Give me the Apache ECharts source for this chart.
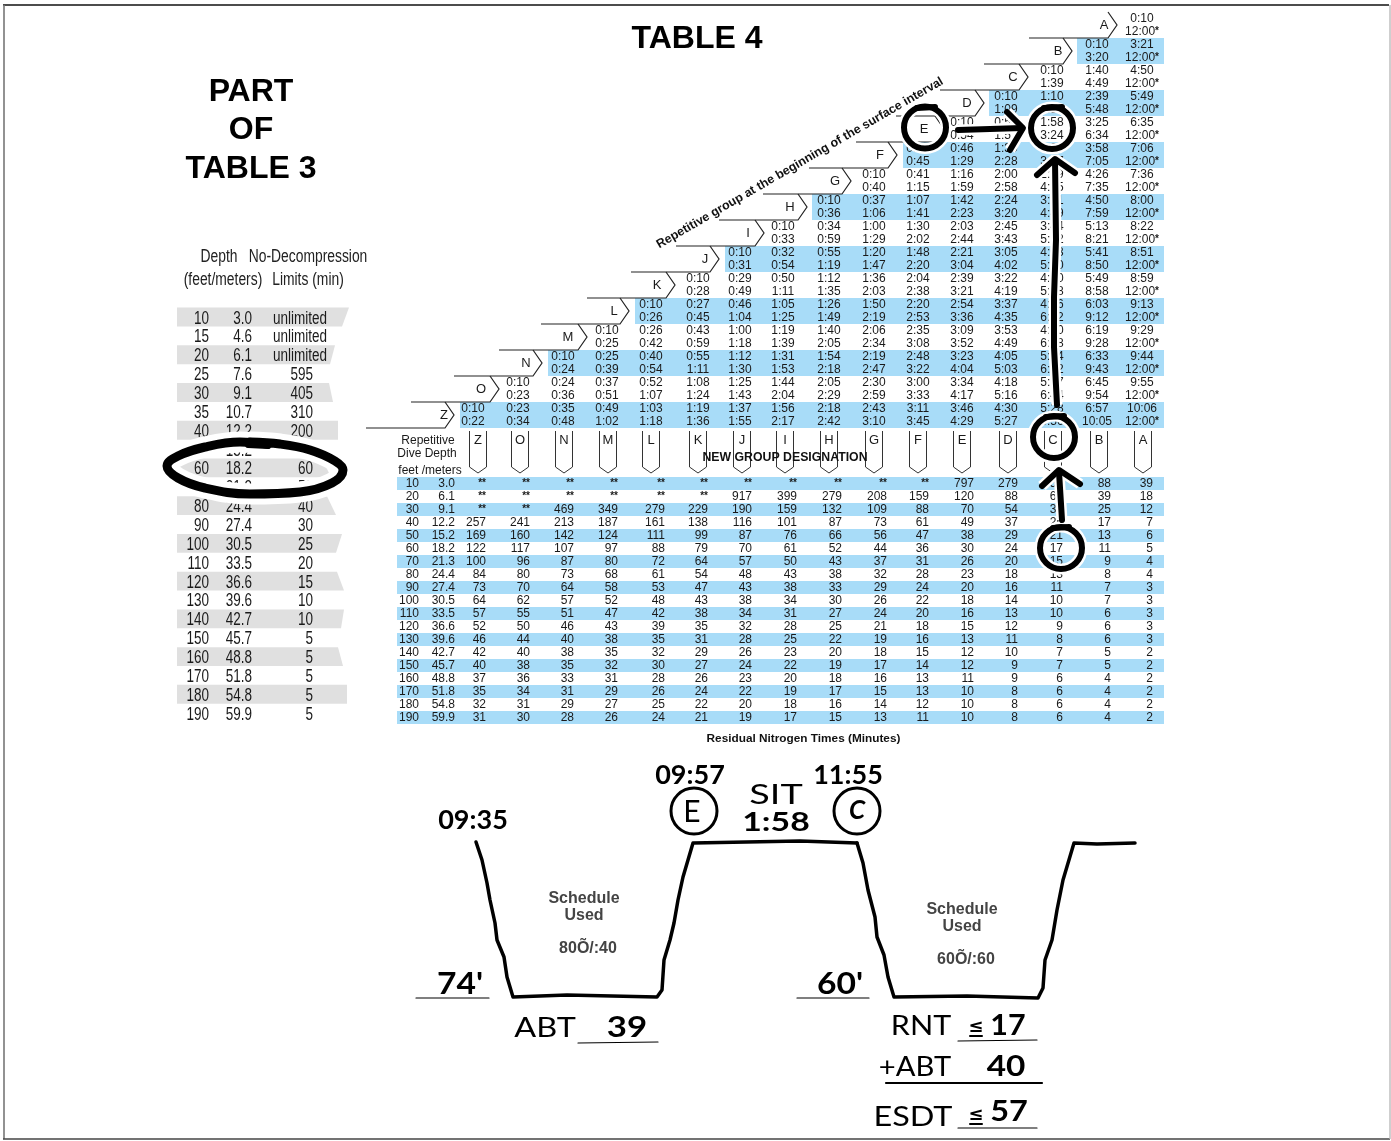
<!DOCTYPE html>
<html>
<head>
<meta charset="utf-8">
<title>Table 4</title>
<style>
  html, body { margin: 0; padding: 0; background: #fff; }
  #chart { width: 1391px; height: 1141px; }
</style>
<script src="https://cdn.jsdelivr.net/npm/echarts@6/dist/echarts.min.js"></script>
</head>
<body>
<div id="chart"></div>
<script>
  // table 4, surface intervals, rows A..Z, cells left to right
  const groups = ['A', 'B', 'C', 'D', 'E', 'F', 'G', 'H', 'I', 'J', 'K', 'L', 'M', 'N', 'O', 'Z']
  const newGroups = ['Z', 'O', 'N', 'M', 'L', 'K', 'J', 'I', 'H', 'G', 'F', 'E', 'D', 'C', 'B', 'A']
  const intervalFrom = [
    ['0:10'],
    ['0:10', '3:21'],
    ['0:10', '1:40', '4:50'],
    ['0:10', '1:10', '2:39', '5:49'],
    ['0:10', '0:55', '1:58', '3:25', '6:35'],
    ['0:10', '0:46', '1:30', '2:29', '3:58', '7:06'],
    ['0:10', '0:41', '1:16', '2:00', '2:59', '4:26', '7:36'],
    ['0:10', '0:37', '1:07', '1:42', '2:24', '3:21', '4:50', '8:00'],
    ['0:10', '0:34', '1:00', '1:30', '2:03', '2:45', '3:44', '5:13', '8:22'],
    ['0:10', '0:32', '0:55', '1:20', '1:48', '2:21', '3:05', '4:03', '5:41', '8:51'],
    ['0:10', '0:29', '0:50', '1:12', '1:36', '2:04', '2:39', '3:22', '4:20', '5:49', '8:59'],
    ['0:10', '0:27', '0:46', '1:05', '1:26', '1:50', '2:20', '2:54', '3:37', '4:36', '6:03', '9:13'],
    ['0:10', '0:26', '0:43', '1:00', '1:19', '1:40', '2:06', '2:35', '3:09', '3:53', '4:50', '6:19', '9:29'],
    ['0:10', '0:25', '0:40', '0:55', '1:12', '1:31', '1:54', '2:19', '2:48', '3:23', '4:05', '5:04', '6:33', '9:44'],
    ['0:10', '0:24', '0:37', '0:52', '1:08', '1:25', '1:44', '2:05', '2:30', '3:00', '3:34', '4:18', '5:17', '6:45', '9:55'],
    ['0:10', '0:23', '0:35', '0:49', '1:03', '1:19', '1:37', '1:56', '2:18', '2:43', '3:11', '3:46', '4:30', '5:28', '6:57', '10:06']
  ]
  const intervalTo = [
    ['12:00*'],
    ['3:20', '12:00*'],
    ['1:39', '4:49', '12:00*'],
    ['1:09', '2:38', '5:48', '12:00*'],
    ['0:54', '1:57', '3:24', '6:34', '12:00*'],
    ['0:45', '1:29', '2:28', '3:57', '7:05', '12:00*'],
    ['0:40', '1:15', '1:59', '2:58', '4:25', '7:35', '12:00*'],
    ['0:36', '1:06', '1:41', '2:23', '3:20', '4:49', '7:59', '12:00*'],
    ['0:33', '0:59', '1:29', '2:02', '2:44', '3:43', '5:12', '8:21', '12:00*'],
    ['0:31', '0:54', '1:19', '1:47', '2:20', '3:04', '4:02', '5:40', '8:50', '12:00*'],
    ['0:28', '0:49', '1:11', '1:35', '2:03', '2:38', '3:21', '4:19', '5:48', '8:58', '12:00*'],
    ['0:26', '0:45', '1:04', '1:25', '1:49', '2:19', '2:53', '3:36', '4:35', '6:02', '9:12', '12:00*'],
    ['0:25', '0:42', '0:59', '1:18', '1:39', '2:05', '2:34', '3:08', '3:52', '4:49', '6:18', '9:28', '12:00*'],
    ['0:24', '0:39', '0:54', '1:11', '1:30', '1:53', '2:18', '2:47', '3:22', '4:04', '5:03', '6:32', '9:43', '12:00*'],
    ['0:23', '0:36', '0:51', '1:07', '1:24', '1:43', '2:04', '2:29', '2:59', '3:33', '4:17', '5:16', '6:44', '9:54', '12:00*'],
    ['0:22', '0:34', '0:48', '1:02', '1:18', '1:36', '1:55', '2:17', '2:42', '3:10', '3:45', '4:29', '5:27', '6:56', '10:05', '12:00*']
  ]

  // residual nitrogen times
  const depthFeet = [10, 20, 30, 40, 50, 60, 70, 80, 90, 100, 110, 120, 130, 140, 150, 160, 170, 180, 190]
  const depthMeters = ['3.0', '6.1', '9.1', '12.2', '15.2', '18.2', '21.3', '24.4', '27.4', '30.5', '33.5', '36.6', '39.6', '42.7', '45.7', '48.8', '51.8', '54.8', '59.9']
  const residualTimes = [
    ['**', '**', '**', '**', '**', '**', '**', '**', '**', '**', '**', 797, 279, 159, 88, 39],
    ['**', '**', '**', '**', '**', '**', 917, 399, 279, 208, 159, 120, 88, 62, 39, 18],
    ['**', '**', 469, 349, 279, 229, 190, 159, 132, 109, 88, 70, 54, 39, 25, 12],
    [257, 241, 213, 187, 161, 138, 116, 101, 87, 73, 61, 49, 37, 25, 17, 7],
    [169, 160, 142, 124, 111, 99, 87, 76, 66, 56, 47, 38, 29, 21, 13, 6],
    [122, 117, 107, 97, 88, 79, 70, 61, 52, 44, 36, 30, 24, 17, 11, 5],
    [100, 96, 87, 80, 72, 64, 57, 50, 43, 37, 31, 26, 20, 15, 9, 4],
    [84, 80, 73, 68, 61, 54, 48, 43, 38, 32, 28, 23, 18, 13, 8, 4],
    [73, 70, 64, 58, 53, 47, 43, 38, 33, 29, 24, 20, 16, 11, 7, 3],
    [64, 62, 57, 52, 48, 43, 38, 34, 30, 26, 22, 18, 14, 10, 7, 3],
    [57, 55, 51, 47, 42, 38, 34, 31, 27, 24, 20, 16, 13, 10, 6, 3],
    [52, 50, 46, 43, 39, 35, 32, 28, 25, 21, 18, 15, 12, 9, 6, 3],
    [46, 44, 40, 38, 35, 31, 28, 25, 22, 19, 16, 13, 11, 8, 6, 3],
    [42, 40, 38, 35, 32, 29, 26, 23, 20, 18, 15, 12, 10, 7, 5, 2],
    [40, 38, 35, 32, 30, 27, 24, 22, 19, 17, 14, 12, 9, 7, 5, 2],
    [37, 36, 33, 31, 28, 26, 23, 20, 18, 16, 13, 11, 9, 6, 4, 2],
    [35, 34, 31, 29, 26, 24, 22, 19, 17, 15, 13, 10, 8, 6, 4, 2],
    [32, 31, 29, 27, 25, 22, 20, 18, 16, 14, 12, 10, 8, 6, 4, 2],
    [31, 30, 28, 26, 24, 21, 19, 17, 15, 13, 11, 10, 8, 6, 4, 2]
  ]

  // part of table 3
  const limitFeet = [10, 15, 20, 25, 30, 35, 40, 50, 60, 70, 80, 90, 100, 110, 120, 130, 140, 150, 160, 170, 180, 190]
  const limitMeters = ['3.0', '4.6', '6.1', '7.6', '9.1', '10.7', '12.2', '15.2', '18.2', '21.3', '24.4', '27.4', '30.5', '33.5', '36.6', '39.6', '42.7', '45.7', '48.8', '51.8', '54.8', '59.9']
  const limitMinutes = ['unlimited', 'unlimited', 'unlimited', 595, 405, 310, 200, 100, 60, 50, 40, 30, 25, 20, 15, 10, 10, 5, 5, 5, 5, 5]

  // dive profiles [x, y on the page scale]
  const firstDive = [[476, 842], [482, 860], [487, 883], [490, 900], [495, 923], [497, 940], [504, 957], [507, 977], [513, 997], [567, 995], [657, 997], [662, 990], [664, 960], [670, 940], [674, 923], [678, 900], [683, 877], [693, 843], [800, 841], [857, 843]]
  const secondDive = [[857, 843], [863, 863], [868, 890], [875, 917], [877, 937], [884, 955], [888, 977], [894, 997], [967, 996], [1038, 998], [1043, 988], [1045, 960], [1052, 940], [1057, 910], [1063, 880], [1074, 843], [1097, 844], [1135, 843]]

  // layout, px along the shared x axis
  const tagEdge = [1108, 1063, 1019, 975, 935, 888, 842, 798, 755, 710, 666, 620, 578, 533, 490, 445]
  const tagLetter = [1104, 1058, 1013, 967, 924, 880, 835, 790, 748, 705, 657, 614, 568, 526, 481, 444]
  const cellCenter = [473, 518, 563, 607, 651, 698, 740, 783, 829, 874, 918, 962, 1006, 1052, 1097, 1142]
  const headCenter = [478, 520, 564, 608, 651, 698, 742, 785, 829, 874, 918, 962, 1008, 1053, 1099, 1143]
  const cellRight = [486, 530, 574, 618, 665, 708, 752, 797, 842, 887, 929, 974, 1018, 1063, 1111, 1153]
  const bandStart = { 1: 1077, 3: 989, 5: 903, 7: 812, 9: 725, 11: 635, 13: 548, 15: 460 }
  const limitBandEnd = [[349, 342], [335, 330], [329, 333], [338, 338], [322, 331], [327, 336], [342, 336], [337, 344], [344, 341], [338, 343], [347, 347]]

  const BLUE = '#a8dcf8'
  const INK = '#1a1a1a'
  const SANS = '"Liberation Sans", Arial, sans-serif'
  const HAND = 'Lato, "Noto Sans", sans-serif'

  // ---- grids: all share a px wide x axis ----
  const grids = [
    { left: 0, right: 0, top: 12, height: 416 },
    { left: 0, right: 0, top: 428, height: 49 },
    { left: 0, right: 0, top: 477, height: 247 },
    { left: 0, right: 0, top: 307.6, height: 415 },
    { left: 0, right: 0, top: 0, bottom: 0 }
  ]
  const xAxes = grids.map((g, i) => ({ type: 'value', gridIndex: i, min: 0, max: 1391, show: false }))
  const yAxes = [
    { type: 'category', gridIndex: 0, inverse: true, show: false, data: groups },
    { type: 'category', gridIndex: 1, inverse: true, show: false, data: ['head'] },
    { type: 'category', gridIndex: 2, inverse: true, show: false, data: depthFeet },
    { type: 'category', gridIndex: 3, inverse: true, show: false, data: limitFeet },
    { type: 'value', gridIndex: 4, inverse: true, min: 0, max: 1141, show: false }
  ]

  function textEl (x, y, text, o) {
    o = o || {}
    return {
      type: 'text',
      x: x,
      y: y,
      scaleX: o.scaleX || 1,
      rotation: o.rotation || 0,
      z2: 5,
      style: {
        text: text,
        x: 0,
        y: 0,
        align: o.align || 'center',
        verticalAlign: 'middle',
        font: o.font || ('12px ' + SANS),
        fill: o.fill || INK,
        rich: { s: { font: 'bold 10px ' + SANS, fill: INK, verticalAlign: 'middle' } }
      }
    }
  }
  function star (v) {
    return String(v).replace(/(\*+)/, '{s|$1}')
  }
  function customSeries (grid, data, renderItem, z) {
    return {
      type: 'custom',
      xAxisIndex: grid,
      yAxisIndex: grid,
      data: data,
      renderItem: renderItem,
      silent: true,
      animation: false,
      clip: false,
      z: z || 2
    }
  }

  // ---- table 4 ----
  const bandRows = Object.keys(bandStart).map(r => [bandStart[r], +r, 1164])
  const bandSeries = customSeries(0, bandRows, function (params, api) {
    const a = api.coord([bandRows[params.dataIndex][0], bandRows[params.dataIndex][1]])
    const b = api.coord([bandRows[params.dataIndex][2], bandRows[params.dataIndex][1]])
    const h = api.size([0, 1])[1]
    return { type: 'rect', shape: { x: a[0], y: a[1] - h / 2, width: b[0] - a[0], height: h }, style: { fill: BLUE } }
  }, 1)

  const intervalCells = []
  intervalFrom.forEach((row, r) => {
    row.forEach((v, i) => {
      const c = 16 - row.length + i
      intervalCells.push([cellCenter[c], r, v, intervalTo[r][i]])
    })
  })
  const intervalSeries = customSeries(0, intervalCells, function (params, api) {
    const d = intervalCells[params.dataIndex]
    const p = api.coord([d[0], d[1]])
    return {
      type: 'group',
      children: [
        textEl(p[0], p[1] - 6.5, d[2]),
        textEl(p[0], p[1] + 6.5, star(d[3]))
      ]
    }
  })

  const tagRows = tagEdge.map((x, r) => [x, r])
  const tagSeries = customSeries(0, tagRows, function (params, api) {
    const d = tagRows[params.dataIndex]
    const p = api.coord(d)
    const h = api.size([0, 1])[1]
    const yb = p[1] + h / 2
    return {
      type: 'group',
      children: [
        {
          type: 'polyline',
          shape: { points: [[d[0] - 79, yb], [d[0], yb], [d[0] + 9, yb - h / 2], [d[0], yb - h]] },
          style: { stroke: '#222', lineWidth: 1.2, fill: 'none' }
        },
        textEl(tagLetter[d[1]], p[1], groups[d[1]], { font: '13px ' + SANS })
      ]
    }
  })

  // ---- new group heads ----
  const headRows = headCenter.map((x, c) => [x, 0, c])
  const headSeries = customSeries(1, headRows, function (params, api) {
    const d = headRows[params.dataIndex]
    const p = api.coord([d[0], 0])
    const top = p[1] - 21.5
    return {
      type: 'group',
      children: [
        {
          type: 'polyline',
          shape: { points: [[d[0] - 8.5, top], [d[0] - 8.5, top + 36], [d[0], top + 42], [d[0] + 8.5, top + 36], [d[0] + 8.5, top]] },
          style: { stroke: '#333', lineWidth: 1, fill: 'none' }
        },
        textEl(d[0], top + 9, newGroups[d[2]], { font: '13px ' + SANS })
      ]
    }
  })

  // ---- residual nitrogen table ----
  const rntBands = depthFeet.map((d, r) => r).filter(r => r % 2 === 0)
  const rntBandSeries = customSeries(2, rntBands, function (params, api) {
    const r = rntBands[params.dataIndex]
    const a = api.coord([397, r])
    const b = api.coord([1164, r])
    const h = api.size([0, 1])[1]
    return { type: 'rect', shape: { x: a[0], y: a[1] - h / 2, width: b[0] - a[0], height: h }, style: { fill: BLUE } }
  }, 1)
  const rntCells = []
  depthFeet.forEach((ft, r) => {
    rntCells.push([419, r, ft])
    rntCells.push([455, r, depthMeters[r]])
    residualTimes[r].forEach((v, c) => {
      rntCells.push([cellRight[c], r, v])
    })
  })
  const rntSeries = customSeries(2, rntCells, function (params, api) {
    const d = rntCells[params.dataIndex]
    const p = api.coord([d[0], d[1]])
    return textEl(p[0], p[1], star(d[2]), { align: 'right' })
  })

  // ---- table 3 ----
  const limitBandRows = limitFeet.map((f, r) => r).filter(r => r % 2 === 0)
  const limitBandSeries = customSeries(3, limitBandRows, function (params, api) {
    const r = limitBandRows[params.dataIndex]
    const p = api.coord([177, r])
    const h = api.size([0, 1])[1]
    const e = limitBandEnd[params.dataIndex]
    return {
      type: 'polygon',
      shape: { points: [[177, p[1] - h / 2], [e[0], p[1] - h / 2], [e[1], p[1] + h / 2], [177, p[1] + h / 2]] },
      style: { fill: '#e0e0e0' }
    }
  }, 1)
  const narrow = { scaleX: 0.75, font: '18px ' + SANS, align: 'right' }
  const limitCells = []
  limitFeet.forEach((ft, r) => {
    limitCells.push([209, r, ft])
    limitCells.push([252, r, limitMeters[r]])
    limitCells.push([limitMinutes[r] === 'unlimited' ? 327 : 313, r, limitMinutes[r]])
  })
  const limitSeries = customSeries(3, limitCells, function (params, api) {
    const d = limitCells[params.dataIndex]
    const p = api.coord([d[0], d[1]])
    return textEl(p[0], p[1] + 1.5, String(d[2]), narrow)
  })

  // ---- pen marks on the page grid ----
  function penLine (points, width, z, smooth, halo) {
    return [
      { type: 'line', xAxisIndex: 4, yAxisIndex: 4, data: points, showSymbol: false, silent: true, animation: false, smooth: smooth || 0, z: z, lineStyle: { color: '#fff', width: width + (halo || 5) } },
      { type: 'line', xAxisIndex: 4, yAxisIndex: 4, data: points, showSymbol: false, silent: true, animation: false, smooth: smooth || 0, z: z + 0.5, lineStyle: { color: '#000', width: width, cap: 'round', join: 'round' } }
    ]
  }
  function inkLine (points, width, z) {
    return { type: 'line', xAxisIndex: 4, yAxisIndex: 4, data: points, showSymbol: false, silent: true, animation: false, z: z || 6, lineStyle: { color: '#000', width: width, cap: 'round', join: 'round' } }
  }
  // [x, y, r, stroke, halo]
  const rings = [
    [925, 127.5, 21, 6, 11],
    [1052, 128, 21, 6, 11],
    [1054, 437, 21, 6, 11],
    [1061, 548, 21, 6, 11],
    [694, 811, 23, 3, 3],
    [857, 811, 23, 3, 3]
  ]
  const ringSeries = customSeries(4, rings, function (params, api) {
    const d = rings[params.dataIndex]
    const p = api.coord([d[0], d[1]])
    return {
      type: 'group',
      children: [
        { type: 'circle', shape: { cx: p[0], cy: p[1], r: d[2] }, style: { fill: 'none', stroke: '#fff', lineWidth: d[4] } },
        { type: 'circle', shape: { cx: p[0], cy: p[1], r: d[2] }, style: { fill: 'none', stroke: '#000', lineWidth: d[3] } }
      ]
    }
  }, 10)

  const depthLoop = [[267, 444], [240, 442], [205, 447], [178, 456], [167, 466], [178, 478], [205, 488], [250, 494], [300, 492], [332, 483], [343, 470], [335, 461], [310, 450], [280, 444], [250, 442]]
  const penMarks = [].concat(
    penLine(depthLoop, 9, 10, 0.4, 12),
    penLine([[958, 130], [1022, 128]], 6, 11),
    penLine([[1007, 112], [1023, 128], [1010, 150]], 6, 11),
    penLine([[1057, 405], [1054, 347], [1054, 297], [1056, 240], [1055, 160]], 6, 11),
    penLine([[1037, 175], [1055, 159], [1075, 173]], 6, 11.2),
    penLine([[1062, 520], [1059, 472]], 6, 11),
    penLine([[1042, 486], [1059, 470], [1080, 484]], 6, 11.2),
    [
      inkLine([[248, 445], [268, 446]], 6, 12),
      inkLine([[917, 108], [935, 107]], 6, 12),
      inkLine([[1044, 108], [1062, 107]], 6, 12),
      inkLine([[1046, 417], [1064, 416]], 6, 12),
      inkLine([[1053, 528], [1069, 527]], 6, 12),
      inkLine(firstDive, 3.5),
      inkLine(secondDive, 3.5),
      inkLine([[416, 998], [489, 998]], 1.2),
      inkLine([[797, 998], [869, 998]], 1.2),
      inkLine([[578, 1043], [658, 1042]], 1.2),
      inkLine([[958, 1041], [1037, 1040]], 1.2),
      inkLine([[886, 1083], [1042, 1083]], 2.2),
      inkLine([[958, 1128], [1037, 1128]], 1.2),
      inkLine([[970, 1036], [982, 1036]], 2),
      inkLine([[970, 1124], [982, 1124]], 2)
    ]
  )

  // ---- free text ----
  function note (text, x, y, font, fill, rotation, scaleX) {
    return {
      type: 'text',
      x: x,
      y: y,
      rotation: rotation || 0,
      scaleX: scaleX || 1,
      z: 20,
      silent: true,
      style: { text: text, x: 0, y: 0, align: 'center', verticalAlign: 'middle', font: font, fill: fill || '#000' }
    }
  }
  function narrowNote (text, x, y) {
    return note(text, x, y, '18px ' + SANS, '#222', 0, 0.77)
  }
  const titleFont = 'bold 32px ' + SANS
  const schedFont = 'bold 16px ' + SANS
  const handBold = 'bold 27px ' + HAND
  const handThin = '27px ' + HAND
  const handDigits = 'bold 29px ' + HAND
  const texts = [
    note('TABLE 4', 697, 39.5, titleFont),
    note('PART', 251, 92.5, titleFont),
    note('OF', 251, 130.5, titleFont),
    note('TABLE 3', 251, 169.5, titleFont),
    note('Repetitive group at the beginning of the surface interval', 800, 163, 'bold 12.4px ' + SANS, '#111', 0.525),
    note('NEW GROUP DESIGNATION', 785, 458, 'bold 12.3px ' + SANS, '#111'),
    note('Repetitive', 428, 441, '12px ' + SANS, INK),
    note('Dive Depth', 427, 454, '12px ' + SANS, INK),
    note('feet /meters', 430, 471, '12px ' + SANS, INK),
    note('Residual Nitrogen Times (Minutes)', 803.5, 738.5, 'bold 11.8px ' + SANS, '#111'),
    narrowNote('Depth', 219, 257),
    narrowNote('No-Decompression', 308, 257),
    narrowNote('(feet/meters)', 223, 280),
    narrowNote('Limits (min)', 308, 280),
    note('Schedule', 584, 899, schedFont, '#444'),
    note('Used', 584, 916, schedFont, '#444'),
    note('80Õ/:40', 588, 949, schedFont, '#444'),
    note('Schedule', 962, 910, schedFont, '#444'),
    note('Used', 962, 927, schedFont, '#444'),
    note('60Õ/:60', 966, 960, schedFont, '#444'),
    note('09:35', 473, 820, handBold),
    note('09:57', 690, 775, handBold),
    note('11:55', 848, 775, handBold),
    note('SIT', 776, 795, handThin, '#000', 0, 1.4),
    note('1:58', 776, 822, handBold, '#000', 0, 1.25),
    note('E', 692, 812, '30px ' + HAND),
    note('C', 857, 811, 'italic bold 26px ' + HAND),
    note("74'", 460, 984, 'bold 30px ' + HAND, '#000', 0, 1.12),
    note("60'", 840, 984, 'bold 30px ' + HAND, '#000', 0, 1.12),
    note('ABT', 545, 1028, handThin, '#000', 0, 1.2),
    note('39', 627, 1028, handDigits, '#000', 0, 1.2),
    note('RNT', 921, 1026, handThin, '#000', 0, 1.13),
    note('≤', 976, 1027, 'bold 18px "DejaVu Sans"'),
    note('17', 1008, 1026, handDigits, '#000', 0, 1.05),
    note('+ABT', 915, 1067, handThin, '#000', 0, 1.08),
    note('40', 1006, 1067, handDigits, '#000', 0, 1.15),
    note('ESDT', 913, 1117, handThin, '#000', 0, 1.2),
    note('≤', 976, 1115, 'bold 18px "DejaVu Sans"'),
    note('57', 1009, 1112, handDigits, '#000', 0, 1.12)
  ]
  const frame = [
    { type: 'line', z: 1, silent: true, shape: { x1: 3, y1: 5, x2: 1389, y2: 5 }, style: { stroke: '#111', lineWidth: 1.6 } },
    { type: 'line', z: 1, silent: true, shape: { x1: 4, y1: 5, x2: 4, y2: 1139 }, style: { stroke: '#777', lineWidth: 1.6 } },
    { type: 'line', z: 1, silent: true, shape: { x1: 3, y1: 1139, x2: 1390, y2: 1139 }, style: { stroke: '#444', lineWidth: 1.6 } },
    { type: 'line', z: 1, silent: true, shape: { x1: 1390, y1: 5, x2: 1390, y2: 1139 }, style: { stroke: '#bbb', lineWidth: 1.4 } }
  ]

  const chart = echarts.init(document.getElementById('chart'), null, { renderer: 'canvas' })
  chart.setOption({
    animation: false,
    backgroundColor: '#fff',
    grid: grids,
    xAxis: xAxes,
    yAxis: yAxes,
    graphic: { elements: frame.concat(texts) },
    series: [
      bandSeries, tagSeries, intervalSeries, headSeries,
      rntBandSeries, rntSeries, limitBandSeries, limitSeries
    ].concat(penMarks, [ringSeries])
  })
</script>
</body>
</html>
